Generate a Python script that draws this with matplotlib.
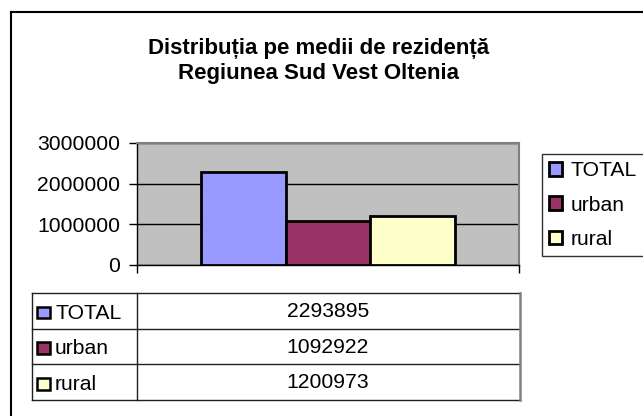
import matplotlib
matplotlib.use('Agg')
import matplotlib.pyplot as plt
from matplotlib.lines import Line2D
from matplotlib.patches import Rectangle

plt.rcParams['font.family'] = ['Liberation Sans', 'DejaVu Sans']

# date
categorii = ['TOTAL', 'urban', 'rural']
valori = [2293895, 1092922, 1200973]
culori = ['#9999FF', '#993366', '#FFFFCC']
titlu = 'Distribuția pe medii de rezidență\nRegiunea Sud Vest Oltenia'
y_ticks = [0, 1000000, 2000000, 3000000]

W, H = 643, 416
fig = plt.figure(figsize=(W / 100, H / 100), dpi=100)
FS = 15.2


def px_axes(x0, y0, x1, y1):
    # coordonate in pixeli, y de sus in jos
    return fig.add_axes([x0 / W, 1 - y1 / H, (x1 - x0) / W, (y1 - y0) / H])


# chenar exterior (doar sus si stanga se vad)
fig.add_artist(Line2D([11 / W, 11 / W], [0, 1 - 12 / H], color='black', lw=1.5, transform=fig.transFigure))
fig.add_artist(Line2D([11 / W, 1], [1 - 12 / H, 1 - 12 / H], color='black', lw=1.5, transform=fig.transFigure))

fig.text(319 / W, 1 - 61 / H, titlu, ha='center', va='center', fontsize=16, fontweight='bold',
         linespacing=1.3)

# grafic
ax = px_axes(137, 143, 519, 265)
ax.set_facecolor('#C0C0C0')
grup = 0.667
bw = grup / len(categorii)
bare = []
for i, (c, v, col) in enumerate(zip(categorii, valori, culori)):
    b = ax.bar((i - 1) * bw, v, width=bw, color=col, edgecolor='black', linewidth=2, label=c, zorder=3)
    bare.append(b)
ax.set_xlim(-0.5, 0.5)
ax.set_ylim(0, 3000000)
ax.set_yticks(y_ticks)
ax.set_yticklabels([str(t) for t in y_ticks], fontsize=FS)
ax.yaxis.grid(True, color='black', lw=1)
ax.set_axisbelow(True)
ax.set_xticks([-0.5, 0.5])
ax.set_xticklabels(['', ''])
ax.tick_params(axis='both', direction='out', length=6, width=1, color='black', pad=6)
for s in ['top', 'right']:
    ax.spines[s].set_color('#808080')
    ax.spines[s].set_linewidth(1.5)
for s in ['left', 'bottom']:
    ax.spines[s].set_color('black')
    ax.spines[s].set_linewidth(1)

leg = fig.legend(handles=bare, labels=categorii, loc='upper left',
                 bbox_to_anchor=(542 / W, 1 - 154 / H), fontsize=FS, frameon=True, fancybox=False,
                 edgecolor='black', handlelength=0.6, handleheight=0.6, handletextpad=0.4,
                 borderpad=0.35, labelspacing=0.72, borderaxespad=0)
leg.get_frame().set_linewidth(1)

# tabel de date
tb = px_axes(32, 293, 520, 400)
tb.set_xlim(0, 488)
tb.set_ylim(len(categorii), 0)
tb.axis('off')
n = len(categorii)
for k in range(n + 1):
    tb.plot([0, 488], [k, k], color='#202020', lw=1, clip_on=False)
tb.plot([0, 0], [0, n], color='#202020', lw=1, clip_on=False)
tb.plot([105, 105], [0, n], color='#202020', lw=1, clip_on=False)
tb.plot([488, 488], [0, n], color='#808080', lw=1.8, clip_on=False)
for i, (c, v, col) in enumerate(zip(categorii, valori, culori)):
    tb.add_patch(Rectangle((5, i + 0.38), 13, 0.33, facecolor=col, edgecolor='black', lw=1.8))
    tb.text(23, i + 0.57, c, ha='left', va='center', fontsize=FS)
    tb.text(296, i + 0.52, str(v), ha='center', va='center', fontsize=FS)

fig.savefig('out.png', dpi=100)
